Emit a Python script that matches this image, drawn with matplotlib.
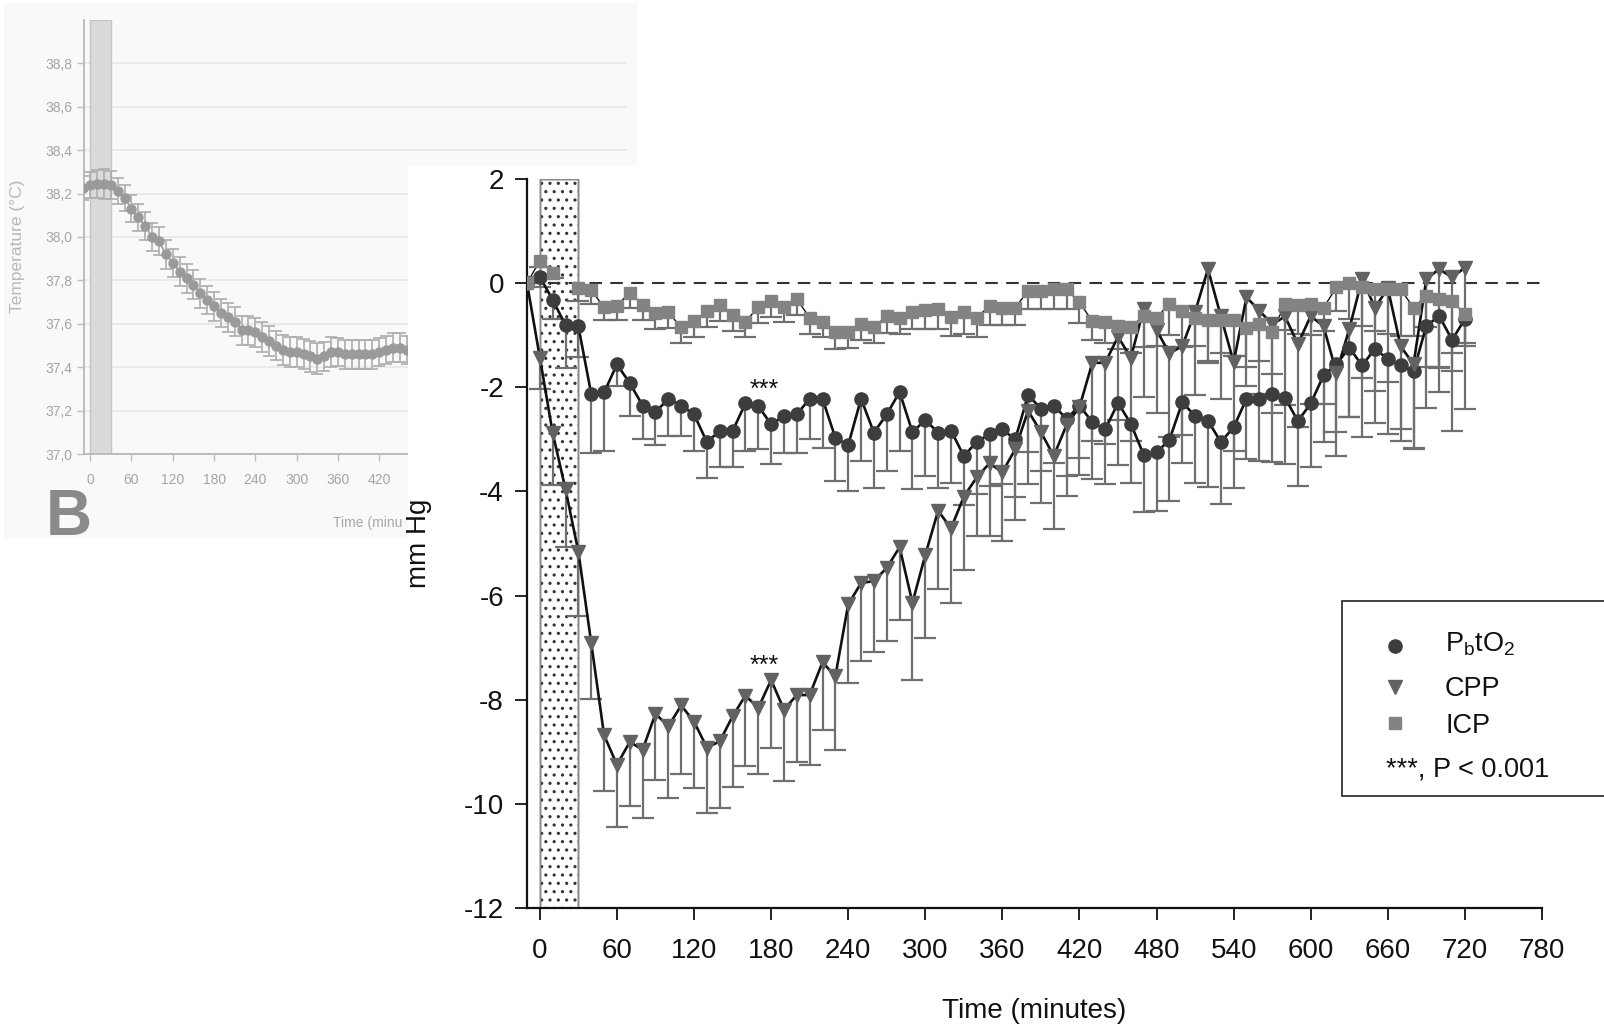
import numpy as np
import matplotlib
matplotlib.use("Agg")
import matplotlib.pyplot as plt
from matplotlib.patches import Rectangle
from matplotlib.lines import Line2D

plt.rcParams["font.family"] = ["Liberation Sans", "DejaVu Sans"]
plt.rcParams["mathtext.fontset"] = "custom"
plt.rcParams["mathtext.rm"] = "Liberation Sans"
plt.rcParams["axes.unicode_minus"] = False
plt.rcParams["hatch.linewidth"] = 1.1

nan = np.nan

# ---------------- panel B: temperature ----------------
temp_time = [-10, 0, 10, 20, 30, 40, 50, 60, 70, 80,
             90, 100, 110, 120, 130, 140, 150, 160, 170, 180,
             190, 200, 210, 220, 230, 240, 250, 260, 270, 280,
             290, 300, 310, 320, 330, 340, 350, 360, 370, 380,
             390, 400, 410, 420, 430, 440, 450, 460]
temp_mean = [38.225, 38.24, 38.245, 38.245, 38.24, 38.21, 38.18, 38.13, 38.09, 38.05,
             38.00, 37.98, 37.92, 37.88, 37.84, 37.81, 37.78, 37.74, 37.71, 37.68,
             37.65, 37.63, 37.61, 37.57, 37.57, 37.56, 37.54, 37.52, 37.50, 37.48,
             37.47, 37.47, 37.46, 37.45, 37.44, 37.45, 37.47, 37.47, 37.46, 37.46,
             37.46, 37.46, 37.46, 37.47, 37.48, 37.49, 37.49, 37.48]
temp_sem = [0.055, 0.060, 0.065, 0.068, 0.065, 0.060, 0.060, 0.062, 0.062, 0.065,
            0.065, 0.065, 0.066, 0.066, 0.066, 0.067, 0.066, 0.066, 0.066, 0.066,
            0.066, 0.066, 0.066, 0.066, 0.066, 0.066, 0.068, 0.068, 0.068, 0.070,
            0.070, 0.070, 0.070, 0.070, 0.070, 0.068, 0.068, 0.066, 0.066, 0.066,
            0.066, 0.066, 0.066, 0.066, 0.066, 0.066, 0.066, 0.066]
temp_yticks = [37.0, 37.2, 37.4, 37.6, 37.8, 38.0, 38.2, 38.4, 38.6, 38.8]
temp_ylabels = ["37,0", "37,2", "37,4", "37,6", "37,8", "38,0", "38,2", "38,4", "38,6", "38,8"]
temp_xticks = [0, 60, 120, 180, 240, 300, 360, 420]

# ---------------- main panel: change from baseline (mm Hg) ----------------
time_min = [-10, 0, 10, 20, 30, 40, 50, 60, 70, 80,
            90, 100, 110, 120, 130, 140, 150, 160, 170, 180,
            190, 200, 210, 220, 230, 240, 250, 260, 270, 280,
            290, 300, 310, 320, 330, 340, 350, 360, 370, 380,
            390, 400, 410, 420, 430, 440, 450, 460, 470, 480,
            490, 500, 510, 520, 530, 540, 550, 560, 570, 580,
            590, 600, 610, 620, 630, 640, 650, 660, 670, 680,
            690, 700, 710, 720]

pbto2_mean = [0.00, 0.12, -0.32, -0.81, -0.83, -2.13, -2.10, -1.56, -1.92, -2.35,
              -2.47, -2.23, -2.35, -2.52, -3.05, -2.84, -2.84, -2.31, -2.36, -2.71,
              -2.55, -2.52, -2.22, -2.22, -2.97, -3.11, -2.22, -2.87, -2.52, -2.09,
              -2.86, -2.63, -2.87, -2.83, -3.32, -3.05, -2.90, -2.81, -3.00, -2.15,
              -2.41, -2.35, -2.61, -2.35, -2.67, -2.81, -2.30, -2.70, -3.30, -3.25,
              -3.01, -2.29, -2.55, -2.64, -3.05, -2.77, -2.22, -2.22, -2.13, -2.20,
              -2.65, -2.31, -1.77, -1.56, -1.24, -1.58, -1.26, -1.46, -1.58, -1.69,
              -0.82, -0.63, -1.09, -0.69]
pbto2_err = [0.00, 0.20, 0.37, 0.82, 0.58, 1.13, 1.12, 0.41, 0.63, 0.64,
             0.64, 0.71, 0.59, 0.70, 0.70, 0.70, 0.70, 0.91, 0.83, 0.76,
             0.71, 0.74, 0.77, 0.94, 0.83, 0.89, 1.20, 1.06, 1.09, 1.13,
             1.09, 1.08, 1.06, 1.00, 0.95, 1.00, 1.00, 1.05, 1.10, 1.10,
             1.20, 1.10, 1.10, 1.00, 1.10, 1.04, 1.20, 1.14, 1.10, 1.12,
             1.18, 1.16, 1.29, 1.27, 1.20, 1.17, 1.16, 1.19, 1.30, 1.27,
             1.25, 1.23, 1.28, 1.30, 1.34, 1.37, 1.42, 1.44, 1.45, 1.50,
             1.57, 1.47, 1.75, 1.73]

cpp_mean = [0.00, -1.43, -2.88, -3.96, -5.16, -6.91, -8.68, -9.25, -8.81, -8.96,
            -8.27, -8.51, -8.11, -8.42, -8.92, -8.80, -8.32, -7.92, -8.16, -7.62,
            -8.19, -7.91, -7.91, -7.28, -7.55, -6.17, -5.76, -5.72, -5.47, -5.07,
            -6.14, -5.22, -4.37, -4.71, -4.10, -3.73, -3.46, -3.63, -3.19, -2.45,
            -2.86, -3.32, -2.72, -2.38, -1.53, -1.53, -1.03, -1.43, -0.49, -0.90,
            -1.35, -1.21, -0.55, 0.27, -0.63, -1.52, -0.27, -0.53, -0.79, -0.64,
            -1.17, -0.63, -0.83, -1.72, -0.88, 0.08, -0.47, -0.10, -1.21, -1.56,
            0.08, 0.27, 0.11, 0.30]
cpp_err = [0.00, 0.60, 1.00, 1.10, 1.23, 1.08, 1.08, 1.20, 1.24, 1.32,
           1.27, 1.37, 1.32, 1.27, 1.25, 1.28, 1.35, 1.35, 1.27, 1.30,
           1.38, 1.28, 1.35, 1.31, 1.41, 1.51, 1.50, 1.37, 1.41, 1.40,
           1.49, 1.60, 1.50, 1.43, 1.40, 1.12, 1.40, 1.33, 1.35, 1.40,
           1.37, 1.40, 1.36, 1.31, 1.50, 1.55, 1.60, 1.60, 1.70, 1.60,
           1.60, 1.70, 1.60, 1.80, 1.60, 1.70, 1.70, 1.60, 1.70, 1.70,
           1.60, 1.70, 1.50, 1.60, 1.70, 1.90, 1.60, 1.80, 1.60, 1.60,
           1.70, 1.90, 1.80, 1.45]

icp_mean = [0.00, 0.43, 0.20, nan, -0.10, -0.14, -0.46, -0.43, -0.18, -0.42,
            -0.58, -0.56, -0.85, -0.72, -0.54, -0.42, -0.62, -0.74, -0.46, -0.35,
            -0.46, -0.31, -0.66, -0.74, -0.94, -0.94, -0.79, -0.85, -0.63, -0.66,
            -0.55, -0.52, -0.49, -0.65, -0.56, -0.66, -0.44, -0.47, -0.47, -0.15,
            -0.15, -0.12, -0.12, -0.37, -0.73, -0.74, -0.82, -0.84, -0.63, -0.66,
            -0.40, -0.53, -0.66, -0.70, -0.70, -0.70, -0.87, -0.79, -0.94, -0.40,
            -0.42, -0.40, -0.47, -0.08, 0.01, -0.08, -0.12, -0.12, -0.12, -0.47,
            -0.24, -0.31, -0.34, -0.60]
icp_err = [0.00, 0.12, 0.10, nan, 0.24, 0.27, 0.25, 0.28, 0.30, 0.29,
           0.31, 0.30, 0.29, 0.31, 0.30, 0.31, 0.30, 0.29, 0.31, 0.30,
           0.29, 0.30, 0.31, 0.30, 0.32, 0.31, 0.30, 0.30, 0.32, 0.32,
           0.33, 0.36, 0.39, 0.37, 0.42, 0.38, 0.37, 0.34, 0.34, 0.35,
           0.35, 0.38, 0.38, 0.40, 0.36, 0.40, 0.45, 0.50, 0.60, 0.55,
           0.60, 0.70, 0.55, 0.80, 0.65, 0.70, 0.75, 0.70, 0.80, 0.50,
           0.55, 0.60, 0.45, 0.45, 0.70, 0.75, 0.80, 0.85, 0.90, 0.55,
           0.60, 1.30, 1.00, 0.60]

main_xticks = [0, 60, 120, 180, 240, 300, 360, 420, 480, 540, 600, 660, 720, 780]
main_yticks = [-12, -10, -8, -6, -4, -2, 0, 2]
cooling_window = (0, 30)
sig_times = [175, 175]
sig_levels = [-2.05, -7.35]

# ---------------- figure ----------------
W, H, DPI = 1604, 1025, 100
fig = plt.figure(figsize=(W / DPI, H / DPI), dpi=DPI)
fig.patch.set_facecolor("white")


def fx(px):
    return px / W


def fy(py):
    return 1 - py / H


# light backdrop behind the temperature panel
fig.add_artist(Rectangle((fx(4), fy(538)), fx(637) - fx(4), fy(3) - fy(538),
                         transform=fig.transFigure, facecolor="#f9f9f9",
                         edgecolor="none", zorder=-2))

axB = fig.add_axes([fx(84), fy(454), fx(627) - fx(84), fy(20) - fy(454)], zorder=0)
axB.set_facecolor("none")
axB.set_xlim(-9, 780)
axB.set_ylim(37.0, 39.0)
axB.set_yticks(temp_yticks)
axB.set_yticklabels(temp_ylabels)
axB.set_xticks(temp_xticks)
axB.set_xticklabels([str(t) for t in temp_xticks])
for s in ("top", "right"):
    axB.spines[s].set_visible(False)
for s in ("left", "bottom"):
    axB.spines[s].set_color("#b8b8b8")
    axB.spines[s].set_linewidth(1.3)
axB.yaxis.grid(True, color="#e9e9e9", lw=1.3)
axB.set_axisbelow(True)
axB.tick_params(axis="both", colors="#bdbdbd", labelcolor="#a4a4a4",
                labelsize=10, length=5, width=1)
axB.tick_params(axis="x", pad=9)
axB.tick_params(axis="y", pad=3)
axB.axvspan(*cooling_window, facecolor="#dadada", edgecolor="#c4c4c4", lw=1, zorder=1)
axB.errorbar(temp_time, temp_mean, yerr=temp_sem, fmt="o-", color="#9a9a9a",
             ms=6.5, lw=1.2, ecolor="#adadad", elinewidth=1.2, capsize=4,
             capthick=1.2, zorder=3)
axB.set_ylabel("Temperature (°C)", fontsize=12.5, color="#b8b8b8")
axB.yaxis.set_label_coords((25 - 84) / 543, (454 - 246) / 434)
# axis title of the temperature panel, partly hidden behind the main panel
fig.text(fx(333), fy(523), "Time (minu", fontsize=10, color="#a8a8a8",
         ha="left", va="center", zorder=0.2)
fig.text(fx(46), fy(535), "B", fontsize=46, fontweight="bold", color="#8a8a8a",
         ha="left", va="baseline", zorder=0.2)

# white sheet carrying the main panel
fig.add_artist(Rectangle((fx(408), 0), 1 - fx(408), fy(166),
                         transform=fig.transFigure, facecolor="white",
                         edgecolor="none", zorder=0.5))

ax = fig.add_axes([fx(527), fy(908), fx(1542) - fx(527), fy(179) - fy(908)], zorder=1)
ax.set_facecolor("none")
ax.set_xlim(-10, 780)
ax.set_ylim(-12, 2)
ax.set_xticks(main_xticks)
ax.set_xticklabels([str(t) for t in main_xticks])
ax.set_yticks(main_yticks)
ax.set_yticklabels([str(t) for t in main_yticks])
for s in ("top", "right"):
    ax.spines[s].set_visible(False)
for s in ("left", "bottom"):
    ax.spines[s].set_linewidth(1.6)
    ax.spines[s].set_color("#111111")
ax.tick_params(axis="both", direction="out", length=8.6, width=1.3,
               labelsize=20, colors="#111111")
ax.tick_params(axis="x", pad=13)
ax.tick_params(axis="y", pad=8)

# cooling window
ax.add_patch(Rectangle((cooling_window[0], -12), cooling_window[1] - cooling_window[0], 14,
                       facecolor="white", edgecolor="#333333", hatch="..", lw=1.0, zorder=1))
ax.add_patch(Rectangle((cooling_window[0], -12), cooling_window[1] - cooling_window[0], 14,
                       facecolor="none", edgecolor="#888888", lw=1.0, zorder=1.1))

ax.axhline(0, color="#333333", lw=1.5, dashes=(6, 4), zorder=1.5)

bar_color = "#6f6f6f"


def lower_bars(x, mean, err):
    x = np.asarray(x, float)
    mean = np.asarray(mean, float)
    err = np.asarray(err, float)
    low = mean - err
    ax.vlines(x, low, mean, colors=bar_color, lw=1.6, zorder=2)
    ax.plot(x, low, ls="none", marker="_", ms=16, mew=1.6, color=bar_color, zorder=2)


lower_bars(time_min, pbto2_mean, pbto2_err)
lower_bars(time_min, cpp_mean, cpp_err)
lower_bars(time_min, icp_mean, icp_err)

series = [
    (pbto2_mean, "o", "#3d3d3d", 9.5, 1.9),
    (cpp_mean, "v", "#626262", 10.5, 1.9),
    (icp_mean, "s", "#838383", 9.0, 1.0),
]
for vals, mk, col, ms, lw in series:
    ax.plot(time_min, vals, color="#111111", lw=lw, zorder=3)
    ax.plot(time_min, vals, ls="none", marker=mk, ms=ms, color=col, mec=col, zorder=4)

for t, v in zip(sig_times, sig_levels):
    ax.text(t, v, "***", fontsize=18, ha="center", va="center", color="#111111", zorder=5)

ax.set_xlabel("Time (minutes)", fontsize=20, color="#111111")
ax.xaxis.set_label_coords(0.5, (908 - 998) / 729)
ax.set_ylabel("mm Hg", fontsize=20, color="#111111")
ax.yaxis.set_label_coords((432 - 527) / 1015, 0.5)

# key
fig.add_artist(Rectangle((fx(1342), fy(796)), fx(1612) - fx(1342), fy(601) - fy(796),
                         transform=fig.transFigure, facecolor="white",
                         edgecolor="#333333", lw=1.3, zorder=2))
key_rows = [
    ("o", "#3d3d3d", 9.5, r"P$_\mathregular{b}$tO$_\mathregular{2}$", 646, 652),
    ("v", "#626262", 10.5, "CPP", 687, 696),
    ("s", "#838383", 9.0, "ICP", 723, 733),
]
for mk, col, ms, label, ymk, ybase in key_rows:
    fig.add_artist(Line2D([fx(1395)], [fy(ymk)], transform=fig.transFigure, ls="none",
                          marker=mk, ms=ms, color=col, mec=col, zorder=3))
    fig.text(fx(1445), fy(ybase), label, fontsize=19.5, ha="left", va="baseline",
             color="#111111", zorder=3)
fig.text(fx(1386), fy(777), "***, P < 0.001", fontsize=19.5, ha="left", va="baseline",
         color="#111111", zorder=3)

fig.savefig("out.png", dpi=DPI)
